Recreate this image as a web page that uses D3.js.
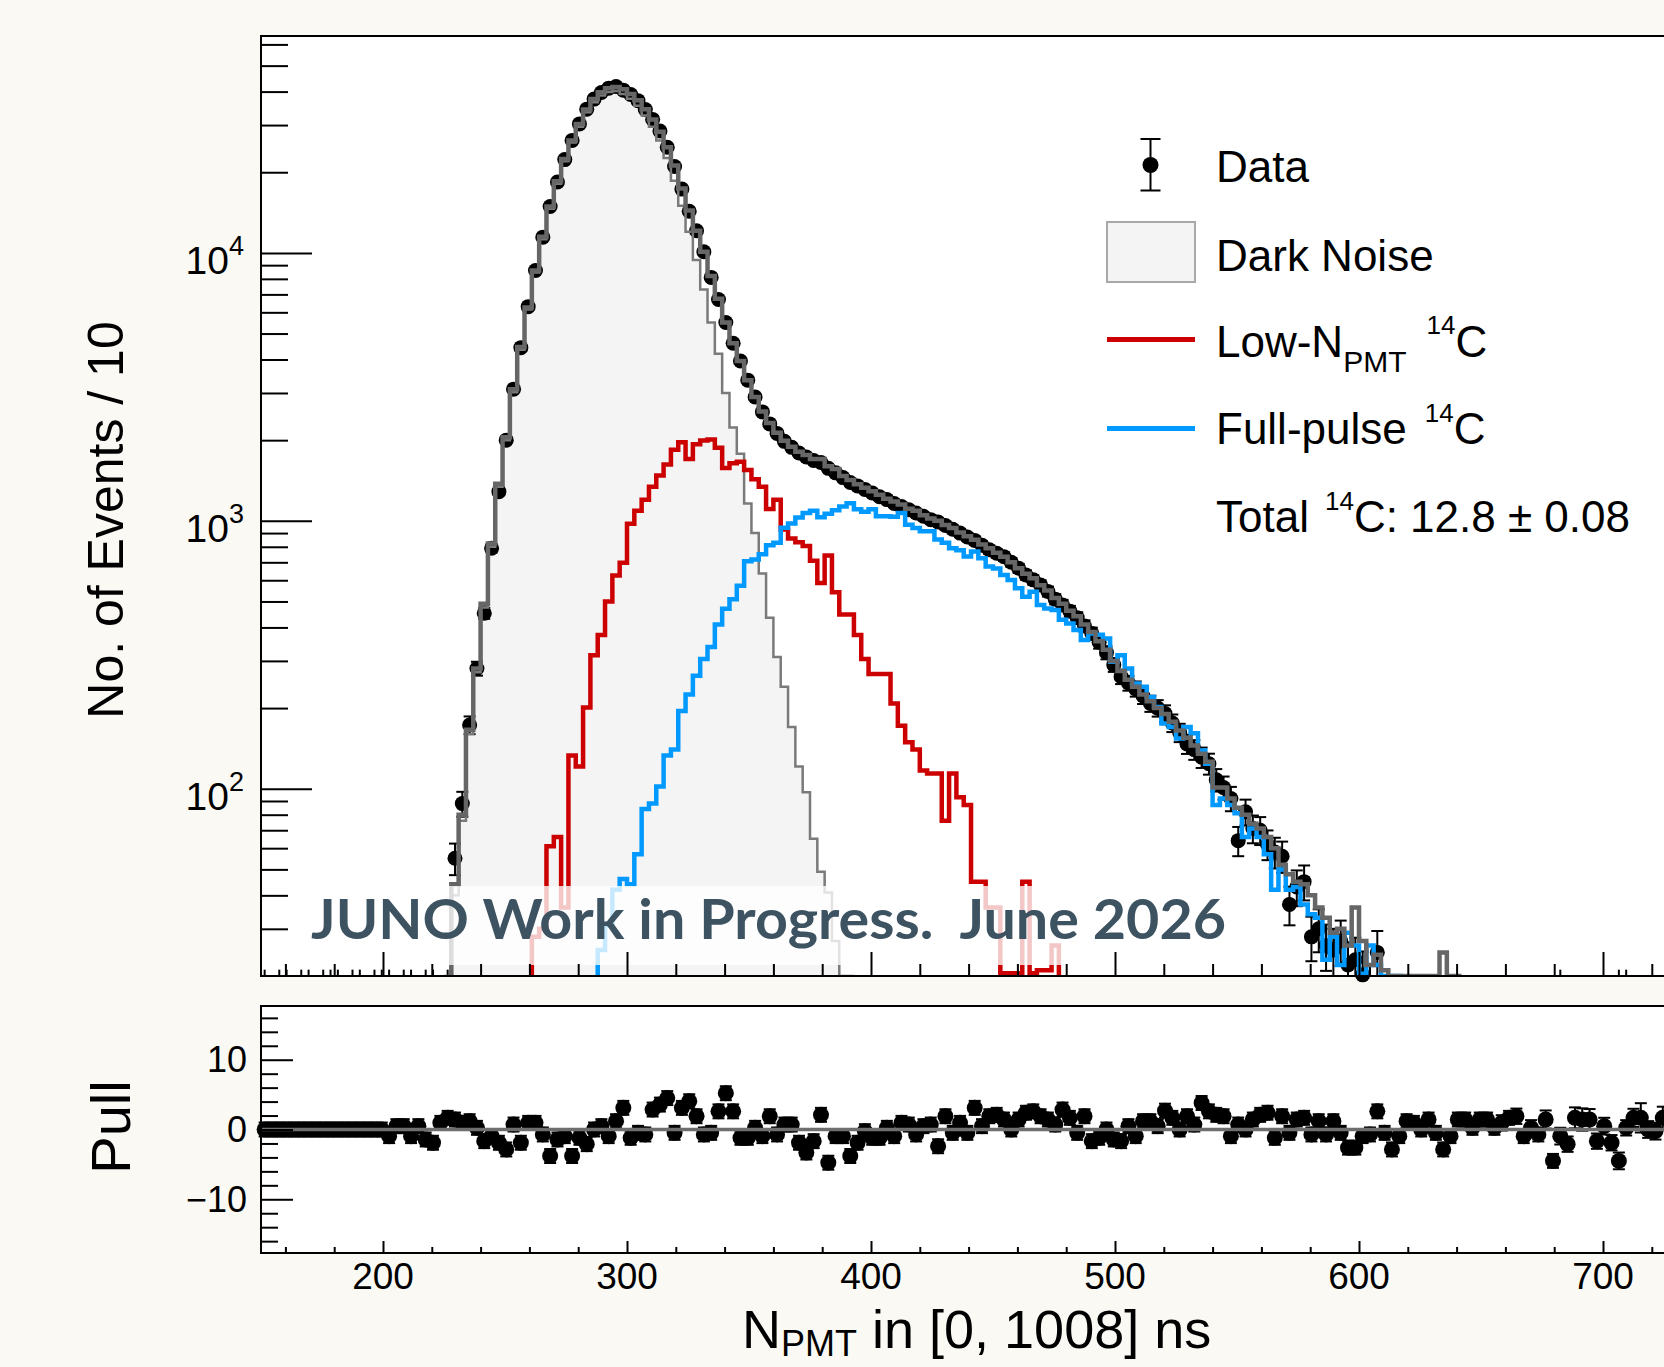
<!DOCTYPE html>
<html>
<head>
<meta charset="utf-8">
<title>N_PMT fit</title>
<script src="https://cdnjs.cloudflare.com/ajax/libs/d3/7.8.5/d3.min.js"></script>
<style>
  html, body { margin: 0; padding: 0; background: #faf9f4; }
  svg { display: block; }
  text { font-family: "Liberation Sans", Arial, Helvetica, sans-serif; fill: #000; }
</style>
</head>
<body>
<svg id="plot" width="1664" height="1367"></svg>
<script>
/*jshint esversion: 6 */

// binning of all histograms (N_PMT, 3 per bin)
const binStart = 150;
const binWidth = 3;

// measured counts, one per bin from binStart
const dataCounts = [
  17, 16, 17, 17, 16, 17, 17, 16, 17, 17, 17, 16, 17, 17, 16, 17, 17, 17, 16, 17, 17, 16, 17, 17, 16,
  17, 55, 88, 173, 281, 452, 790, 1285, 2000, 3100, 4430,
  6300, 8600, 11450, 14900, 18400, 22300, 26300, 30300, 34400, 37500,
  39700, 41200, 41800, 40500, 39000, 37000, 34300, 31500, 28500, 24800,
  21000, 17300, 14300, 12100, 10100, 8100, 6700, 5500, 4600, 3950,
  3350, 2900, 2550, 2300, 2120, 1980, 1880, 1790, 1730, 1680,
  1650, 1570, 1510, 1450, 1390, 1350, 1310, 1270, 1230, 1200,
  1160, 1130, 1100, 1070, 1040, 1010, 990, 960, 930, 900,
  870, 845, 810, 780, 757, 735, 700, 665, 628, 602,
  576, 545, 510, 485, 460, 435, 405, 380, 352, 322,
  290, 262, 248, 236, 222, 208, 200, 191, 176, 162,
  147, 140, 131, 124, 108, 101, 92, 64, 82, 71,
  70, 62, 58, 56, 37, 43, 45, 28, 30, 26,
  25, 27, 22, 23, 20.2, 18, 24.5,
  14, 12, 11, 13, 10, 9, 11, 8, 13, 9,
  10, 9, 8, 9, 8, 7, 8, 9, 8, 6,
  7, 6, 8, 3, 17, 5, 7, 7, 6, 4,
  5, 4, 17, 17, 5, 6, 4, 4, 5
];

// total fit (grey), first bin index below
const totalStartBin = 26;
const totalFit = [
  44, 80, 166, 281, 490, 822, 1374, 2050, 3100, 4450,
  6250, 8600, 11500, 14900, 18500, 22400, 26300, 30300, 34300, 37500,
  39800, 41200, 41600, 40800, 39200, 37100, 34400, 31500, 28300, 24800,
  21200, 17400, 14400, 12100, 10100, 8200, 6750, 5500, 4600, 3950,
  3350, 2900, 2560, 2320, 2130, 1990, 1890, 1810, 1760, 1700,
  1700, 1600, 1560, 1470, 1420, 1370, 1330, 1290, 1250, 1210,
  1180, 1150, 1110, 1090, 1050, 1020, 1000, 965, 940, 905,
  875, 850, 815, 790, 760, 735, 700, 665, 635, 610,
  575, 550, 515, 490, 462, 440, 410, 385, 355, 330,
  300, 275, 255, 240, 225, 212, 200, 190, 178, 165,
  155, 145, 135, 126, 101, 101, 92, 85, 80, 74,
  71, 66, 60, 52, 48, 45, 44, 40, 36, 33,
  29, 30, 26, 36, 27, 22, 24, 21, 17, 14,
  12, 10, 9, 8, 7, 24.5, 6, 5
];

// dark noise component
const darkStartBin = 25;
const darkNoise = [
  15, 40, 76, 160, 272, 475, 800, 1340, 2000, 3020,
  4350, 6150, 8450, 11250, 14600, 18100, 22000, 25800, 29600, 33500,
  36500, 38700, 39900, 40200, 39200, 37600, 35400, 32600, 29600, 26300,
  22600, 18600, 15000, 12000, 9400, 7300, 5500, 4200, 3000, 2230,
  1780, 1160, 900, 636, 435, 310, 240, 170, 121, 97,
  65, 49, 41, 27, 12, 8
];

// low-N_PMT 14C component
const lowStartBin = 37;
const lowNpmt = [
  28, 30, 61, 66, 36, 133, 121, 201, 315, 375,
  500, 625, 698, 976, 1090, 1199, 1341, 1475, 1623, 1843,
  1965, 1702, 1932, 1995, 2010, 1875, 1573, 1640, 1660, 1549,
  1430, 1341, 1107, 1199, 929, 859, 832, 806, 709, 586,
  743, 541, 447, 447, 375, 305, 268, 268, 268, 208,
  172, 149, 140, 117, 114, 114, 76, 114, 93, 87,
  45, 45, 36, 36, 20.5, 20.5, 20.5, 45, 20.5, 21,
  21, 26
];

// full-pulse 14C component
const fullStartBin = 46;
const fullPulse = [
  25, 31, 42, 46, 44, 57, 84, 88, 102, 133,
  140, 195, 225, 264, 305, 338, 410, 470, 510, 572,
  707, 717, 750, 810, 828, 942, 978, 1030, 1070, 1090,
  1032, 1063, 1095, 1130, 1164, 1104, 1080, 1104, 1040, 1040,
  1035, 1070, 967, 940, 914, 914, 851, 828, 790, 777,
  736, 768, 725, 675, 664, 628, 601, 560, 521, 544,
  485, 471, 465, 427, 414, 391, 359, 380, 376, 364,
  298, 315, 281, 247, 240, 220, 202, 175, 170, 154,
  170, 161, 139, 124, 87, 92, 87, 81, 66, 71,
  66, 57, 42, 50, 42, 43, 37, 34, 33, 23,
  28, 22, 29, 26, 20.4, 26, 22, 14, 10, 8
];

// pull per bin from binStart
const pulls = [
  0, 0, 0, 0, 0, 0, 0, 0, 0, 0, 0, 0, 0, 0, 0, 0, 0,
  -0.95, 0.48, 0.48, -0.95, 0.48, -1.43, -1.9, 0.95, 1.67, 1.43,
  0.95, 1.19, 0.24, -1.67, -0.95, -1.9, -2.86, 0.71, -1.9, 0.95,
  0.95, -0.71, -3.8, -1.43, -0.95, -3.8, -1.19, -2.1, 0, 0.48,
  -0.95, 1.19, 3.1, -1.19, -0.48, -0.71, 2.86, 3.57, 4.5, -0.48,
  3.1, 4.05, 1.9, -0.71, -0.48, 2.6, 5.2, 2.6, -1.19, -1.19,
  0.24, -0.95, 1.9, -0.71, 0.71, 0.71, -1.9, -3.3, -1.67, 2.1,
  -4.76, -0.95, -0.95, -3.8, -1.9, -0.24, -1.19, -1.19, 0.24, -0.95,
  0.95, 0.71, -0.71, 0.48, 0.71, -2.4, 1.9, -0.48, 0.95, -0.48,
  3.1, 0.48, 1.9, 2.1, 1.43, 0, 1.43, 2.4, 2.6, 1.9,
  1.43, 0.71, 2.86, 1.67, -0.48, 1.9, -1.67, -1.19, 0, -1.43,
  -1.67, 0.48, -0.95, 1.19, 1.19, 0.48, 2.7, 1.67, 0, 1.9,
  0.71, 3.8, 2.6, 2.1, 1.9, -0.95, 0.71, 0, 1.43, 2.1,
  2.4, -1.19, 1.9, -0.48, 1.43, 1.67, -0.71, 1.19, -0.71, 1.19,
  -0.48, -2.6, -2.6, -0.95, -0.71, 2.6, -0.48, -2.86, -0.95, 1.19,
  0.95, 0, 1.43, -0.48, -2.86, -0.95, 1.43, 1.43, 0.24, 1.43,
  1.43, 0.24, 0.95, 1.67, 1.9, -0.95, 0.24, -0.71, 1.43, -4.5,
  -0.95, -2.1, 1.67, 1.43, 1.43, -1.67, 0.48, -1.9, -4.5, 0.24,
  1.67, 1.67, 0, -0.24, 1.67
];
// pull errors in the sparse tail (elsewhere 1)
const pullErrStartBin = 165;
const pullErrTail = [
  1, 1, 1, 1, 1.1, 1, 1.1, 1, 1.1, 1,
  1.3, 1, 1.2, 1.1, 1.5, 1.6, 1.5, 1.1, 1.2, 1.1,
  1.2, 1.1, 1.3, 2.1, 1.2, 1.2, 1.6
];

// tick labels
const xLabelValues = [200, 300, 400, 500, 600, 700];
const yDecades = [100, 1000, 10000];
const yDecadeExp = ["2", "3", "4"];
const pullLabelValues = [-10, 0, 10];
const pullLabels = ["\u221210", "0", "10"];

// ---------------------------------------------------------------
const svg = d3.select("#plot");
const frameLeft = 261, frameRight = 1700;
const upTop = 36, upBottom = 976;
const lowTop = 1006, lowBottom = 1253;

const x = d3.scaleLinear().domain([150, 150 + (frameRight - frameLeft) / 2.44]).range([frameLeft, frameRight]);
const y = d3.scaleLog().domain([20, 64500]).range([upBottom, upTop]);
const yp = d3.scaleLinear().domain([-17.7, 17.7]).range([lowBottom, lowTop]);
const yMin = y.domain()[0];

const colTotal = "#666666", colDark = "#7a7a7a", colDarkFill = "#f4f4f4";
const colLow = "#cc0000", colFull = "#0099ff";

function binEdge(i) { return binStart + i * binWidth; }
function binCenter(i) { return binStart + (i + 0.5) * binWidth; }

function stepPoints(values, first) {
  var pts = [[binEdge(first), yMin]];
  values.forEach(function(v, k) {
    var c = Math.max(v, yMin);
    pts.push([binEdge(first + k), c], [binEdge(first + k + 1), c]);
  });
  pts.push([binEdge(first + values.length), yMin]);
  return pts;
}
const stepLine = d3.line().x(d => x(d[0])).y(d => y(d[1]));

svg.append("rect").attr("width", 1664).attr("height", 1367).attr("fill", "#faf9f4");

const defs = svg.append("defs");
defs.append("clipPath").attr("id", "upClip").append("rect")
  .attr("x", frameLeft).attr("y", upTop).attr("width", frameRight - frameLeft).attr("height", upBottom - upTop);

// ---------------- upper panel ----------------
svg.append("rect").attr("x", frameLeft).attr("y", upTop)
  .attr("width", frameRight - frameLeft).attr("height", upBottom - upTop).attr("fill", "#fff");

const plot = svg.append("g").attr("clip-path", "url(#upClip)");

// dark noise fill
plot.append("path").attr("d", stepLine(stepPoints(darkNoise, darkStartBin)) + "Z")
  .attr("fill", colDarkFill).attr("stroke", "none");

// data error bars (clipped)
const dataPts = dataCounts.map((n, i) => ({ i: i, n: n, e: Math.sqrt(n) }))
  .filter(d => d.n + d.e > yMin);

plot.selectAll("line.ebar").data(dataPts).enter().append("line")
  .attr("class", "ebar")
  .attr("x1", d => x(binCenter(d.i))).attr("x2", d => x(binCenter(d.i)))
  .attr("y1", d => y(Math.max(d.n - d.e, yMin))).attr("y2", d => y(d.n + d.e))
  .attr("stroke", "#000").attr("stroke-width", 2);

const shown = dataPts.filter(d => d.n >= yMin);
plot.selectAll("line.capTop").data(shown).enter().append("line")
  .attr("class", "capTop")
  .attr("x1", d => x(binCenter(d.i)) - 6).attr("x2", d => x(binCenter(d.i)) + 6)
  .attr("y1", d => y(d.n + d.e)).attr("y2", d => y(d.n + d.e))
  .attr("stroke", "#000").attr("stroke-width", 2);
plot.selectAll("line.capBot").data(shown.filter(d => d.n - d.e > yMin)).enter().append("line")
  .attr("class", "capBot")
  .attr("x1", d => x(binCenter(d.i)) - 6).attr("x2", d => x(binCenter(d.i)) + 6)
  .attr("y1", d => y(d.n - d.e)).attr("y2", d => y(d.n - d.e))
  .attr("stroke", "#000").attr("stroke-width", 2);

// markers are not clipped at the frame
svg.append("g").selectAll("circle").data(shown).enter().append("circle")
  .attr("cx", d => x(binCenter(d.i))).attr("cy", d => y(d.n))
  .attr("r", 7.5).attr("fill", "#000");

// model histograms
const lines = svg.append("g").attr("clip-path", "url(#upClip)").attr("fill", "none").attr("stroke-linejoin", "miter");
lines.append("path").attr("d", stepLine(stepPoints(darkNoise, darkStartBin)))
  .attr("stroke", colDark).attr("stroke-width", 2.5);
lines.append("path").attr("d", stepLine(stepPoints(lowNpmt, lowStartBin)))
  .attr("stroke", colLow).attr("stroke-width", 4.5);
lines.append("path").attr("d", stepLine(stepPoints(fullPulse, fullStartBin)))
  .attr("stroke", colFull).attr("stroke-width", 4.5);
lines.append("path").attr("d", stepLine(stepPoints(totalFit, totalStartBin)))
  .attr("stroke", colTotal).attr("stroke-width", 4.5);

// watermark
svg.append("rect").attr("x", 299).attr("y", 886).attr("width", 936).attr("height", 79)
  .attr("fill", "#fff").attr("fill-opacity", 0.78);
svg.append("text").attr("x", 311).attr("y", 939)
  .attr("textLength", 915).attr("lengthAdjust", "spacingAndGlyphs")
  .style("font-family", "Lato, 'Open Sans', sans-serif").style("font-weight", 700)
  .style("font-size", "56px").style("fill", "#3d5361").style("white-space", "pre")
  .text("JUNO Work in Progress.  June 2026");

// upper axes
const yMinor = [];
[10, 100, 1000, 10000].forEach(function(dec) {
  for (var m = 2; m <= 9; m++) {
    var v = m * dec;
    if (v > yMin && v < y.domain()[1]) yMinor.push(v);
  }
});
const xMinor = d3.range(160, 721, 20).filter(v => xLabelValues.indexOf(v) < 0);

function tickStyle(g) {
  g.select(".domain").remove();
  g.selectAll("line").attr("stroke", "#000").attr("stroke-width", 2);
  g.selectAll("text").remove();
}

svg.append("g").attr("transform", `translate(${frameLeft},0)`)
  .call(d3.axisRight(y).tickValues(yMinor).tickSize(27)).call(tickStyle);
svg.append("g").attr("transform", `translate(${frameLeft},0)`)
  .call(d3.axisRight(y).tickValues(yDecades).tickSize(51)).call(tickStyle);
svg.append("g").attr("transform", `translate(0,${upBottom})`)
  .call(d3.axisTop(x).tickValues(xMinor).tickSize(12)).call(tickStyle);
svg.append("g").attr("transform", `translate(0,${upBottom})`)
  .call(d3.axisTop(x).tickValues(xLabelValues).tickSize(24)).call(tickStyle);

svg.append("rect").attr("x", frameLeft).attr("y", upTop)
  .attr("width", frameRight - frameLeft).attr("height", upBottom - upTop)
  .attr("fill", "none").attr("stroke", "#000").attr("stroke-width", 2);

yDecades.forEach(function(v, k) {
  var t = svg.append("text").attr("x", 244).attr("y", y(v) + 21)
    .attr("text-anchor", "end").style("font-size", "39px");
  t.append("tspan").text("10");
  t.append("tspan").attr("dy", -19).style("font-size", "27px").text(yDecadeExp[k]);
});

svg.append("text").attr("transform", "translate(123,520) rotate(-90)")
  .attr("text-anchor", "middle").style("font-size", "50px")
  .text("No. of Events / 10");

// ---------------- lower panel ----------------
svg.append("rect").attr("x", frameLeft).attr("y", lowTop)
  .attr("width", frameRight - frameLeft).attr("height", lowBottom - lowTop).attr("fill", "#fff");

const pullPts = pulls.map(function(p, i) {
  var k = i - pullErrStartBin;
  var e = (k >= 0 && k < pullErrTail.length) ? pullErrTail[k] : 1;
  return { i: i, p: p, e: e };
});

const pg = svg.append("g");
pg.selectAll("line.pbar").data(pullPts).enter().append("line")
  .attr("class", "pbar")
  .attr("x1", d => x(binCenter(d.i))).attr("x2", d => x(binCenter(d.i)))
  .attr("y1", d => yp(d.p - d.e)).attr("y2", d => yp(d.p + d.e))
  .attr("stroke", "#000").attr("stroke-width", 2);
pg.selectAll("line.pcapT").data(pullPts).enter().append("line")
  .attr("class", "pcapT")
  .attr("x1", d => x(binCenter(d.i)) - 6).attr("x2", d => x(binCenter(d.i)) + 6)
  .attr("y1", d => yp(d.p + d.e)).attr("y2", d => yp(d.p + d.e))
  .attr("stroke", "#000").attr("stroke-width", 2);
pg.selectAll("line.pcapB").data(pullPts).enter().append("line")
  .attr("class", "pcapB")
  .attr("x1", d => x(binCenter(d.i)) - 6).attr("x2", d => x(binCenter(d.i)) + 6)
  .attr("y1", d => yp(d.p - d.e)).attr("y2", d => yp(d.p - d.e))
  .attr("stroke", "#000").attr("stroke-width", 2);
pg.selectAll("circle").data(pullPts).enter().append("circle")
  .attr("cx", d => x(binCenter(d.i))).attr("cy", d => yp(d.p))
  .attr("r", 8).attr("fill", "#000");

// zero line over the points
svg.append("line").attr("x1", frameLeft).attr("x2", frameRight)
  .attr("y1", yp(0)).attr("y2", yp(0))
  .attr("stroke", "#6e6e6e").attr("stroke-width", 3.5);

const pMinor = d3.range(-16, 17, 2).filter(v => v % 10 !== 0);
svg.append("g").attr("transform", `translate(${frameLeft},0)`)
  .call(d3.axisRight(yp).tickValues(pMinor).tickSize(17)).call(tickStyle);
svg.append("g").attr("transform", `translate(${frameLeft},0)`)
  .call(d3.axisRight(yp).tickValues(pullLabelValues).tickSize(32)).call(tickStyle);
svg.append("g").attr("transform", `translate(0,${lowBottom})`)
  .call(d3.axisTop(x).tickValues(xMinor).tickSize(6)).call(tickStyle);
svg.append("g").attr("transform", `translate(0,${lowBottom})`)
  .call(d3.axisTop(x).tickValues(xLabelValues).tickSize(12)).call(tickStyle);

svg.append("rect").attr("x", frameLeft).attr("y", lowTop)
  .attr("width", frameRight - frameLeft).attr("height", lowBottom - lowTop)
  .attr("fill", "none").attr("stroke", "#000").attr("stroke-width", 2);

svg.selectAll("text.plab").data(pullLabelValues).enter().append("text")
  .attr("class", "plab")
  .attr("x", 247).attr("y", d => yp(d) + 12.5).attr("text-anchor", "end")
  .style("font-size", "36px").text((d, k) => pullLabels[k]);

svg.selectAll("text.xlab").data(xLabelValues).enter().append("text")
  .attr("class", "xlab")
  .attr("x", d => x(d)).attr("y", 1289).attr("text-anchor", "middle")
  .style("font-size", "37px").text(d => d);

svg.append("text").attr("transform", "translate(130,1127) rotate(-90)")
  .attr("text-anchor", "middle").style("font-size", "56px").text("Pull");

// axis title, kept just inside the bottom edge
const xt = svg.append("text").attr("x", 742).attr("y", 1348).style("font-size", "54px");
xt.append("tspan").text("N");
xt.append("tspan").attr("dy", 8).style("font-size", "36px").text("PMT");
xt.append("tspan").attr("dy", -8).style("white-space", "pre").text(" in [0, 1008] ns");

// ---------------- legend ----------------
const leg = svg.append("g");
const legX = 1216;
// data
leg.append("line").attr("x1", 1150.5).attr("x2", 1150.5).attr("y1", 139).attr("y2", 190.5)
  .attr("stroke", "#000").attr("stroke-width", 2);
[139, 190.5].forEach(function(cy) {
  leg.append("line").attr("x1", 1140.5).attr("x2", 1160.5).attr("y1", cy).attr("y2", cy)
    .attr("stroke", "#000").attr("stroke-width", 2);
});
leg.append("circle").attr("cx", 1150.5).attr("cy", 165).attr("r", 8).attr("fill", "#000");
leg.append("text").attr("x", legX).attr("y", 181.5).style("font-size", "44px").text("Data");

// dark noise
leg.append("rect").attr("x", 1107).attr("y", 222).attr("width", 88).attr("height", 60)
  .attr("fill", colDarkFill).attr("stroke", "#a8a8a8").attr("stroke-width", 2);
leg.append("text").attr("x", legX).attr("y", 270.5).style("font-size", "44px").text("Dark Noise");

// low npmt
leg.append("line").attr("x1", 1107).attr("x2", 1195).attr("y1", 339.5).attr("y2", 339.5)
  .attr("stroke", colLow).attr("stroke-width", 5);
const t1 = leg.append("text").attr("x", legX).attr("y", 356.5).style("font-size", "44px");
t1.append("tspan").text("Low-N");
t1.append("tspan").attr("dy", 15).style("font-size", "30px").text("PMT");
t1.append("tspan").attr("dy", -38).attr("dx", 20).style("font-size", "26px").text("14");
t1.append("tspan").attr("dy", 23).text("C");

// full pulse
leg.append("line").attr("x1", 1107).attr("x2", 1195).attr("y1", 428.5).attr("y2", 428.5)
  .attr("stroke", colFull).attr("stroke-width", 5);
const t2 = leg.append("text").attr("x", legX).attr("y", 443.5).style("font-size", "44px");
t2.append("tspan").text("Full-pulse");
t2.append("tspan").attr("dy", -22).attr("dx", 18).style("font-size", "26px").text("14");
t2.append("tspan").attr("dy", 22).text("C");

// total
const t3 = leg.append("text").attr("x", legX).attr("y", 531.5).style("font-size", "44px");
t3.append("tspan").text("Total");
t3.append("tspan").attr("dy", -22).attr("dx", 16).style("font-size", "26px").text("14");
t3.append("tspan").attr("dy", 22).text("C: 12.8 \u00b1 0.08");
</script>
</body>
</html>
